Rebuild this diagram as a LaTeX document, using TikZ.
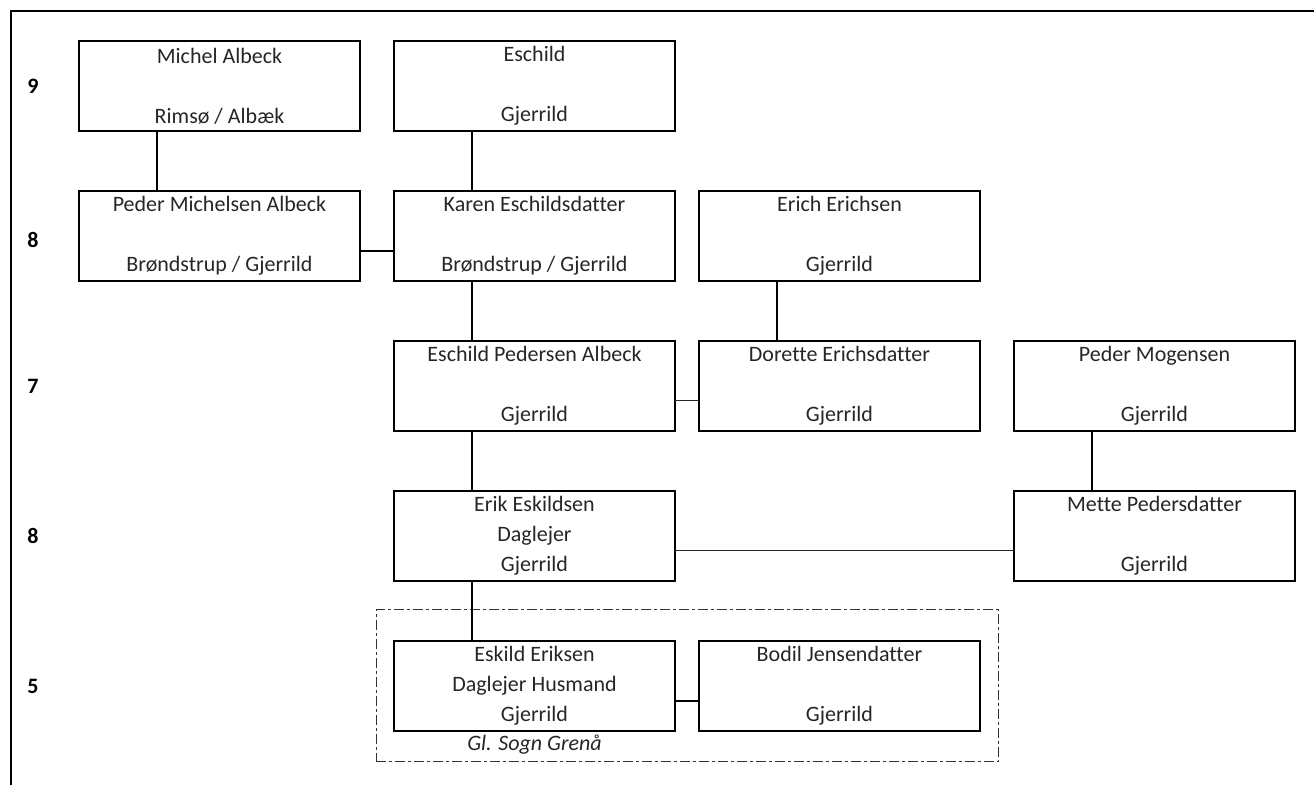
\documentclass[tikz,border=0pt]{standalone}
\usepackage{fontspec}
\setmainfont[Ligatures=NoCommon]{Carlito}
\usetikzlibrary{positioning,fit}

\begin{document}
\begin{tikzpicture}[x=0.5pt, y=-0.5pt, node distance=30pt and 17pt,
		person/.style={draw=black, line width=1pt, minimum width=140.5pt, minimum height=45pt, inner sep=0pt, outer sep=0pt, align=center, font=\fontsize{11}{15}\selectfont, text=black!85},
		genLabel/.style={font=\fontsize{11}{12}\selectfont\bfseries},
		descLine/.style={line width=1.1pt, color=black},
		marLine/.style={line width=1.1pt, color=black},
		thinLine/.style={line width=0.5pt, color=black!85},
		familyBox/.style={draw=black!80, line width=0.5pt, dash pattern=on 5pt off 1.5pt on 1.5pt off 1.5pt, inner xsep=9pt, inner ysep=15.5pt}
		]
	\useasboundingbox (0,0) rectangle (1314,785);
	
	% frame
	\draw [line width=1.3pt] (1314,11) -- (11,11) -- (11,785);
	
	% generations
	\node[genLabel] (g1) at (33,86) {9};
	\node[genLabel] (g2) at (33,240) {8};
	\node[genLabel] (g3) at (33,386) {7};
	\node[genLabel] (g4) at (33,536) {8};
	\node[genLabel] (g5) at (33,686) {5};
	
	\node[person] (michel) at (219.5,86) {Michel Albeck\\ \\Rimsø / Albæk};
	\node[person, right=of michel] (eschild) {Eschild\\ \\Gjerrild};
	
	\node[person, below=of michel] (peder) {Peder Michelsen Albeck\\ \\Brøndstrup / Gjerrild};
	\node[person, below=of eschild] (karen) {Karen Eschildsdatter\\ \\Brøndstrup / Gjerrild};
	\node[person, right=12pt of karen] (erich) {Erich Erichsen\\ \\Gjerrild};
	
	\node[person, below=of karen] (eschildP) {Eschild Pedersen Albeck\\ \\Gjerrild};
	\node[person, below=of erich] (dorette) {Dorette Erichsdatter\\ \\Gjerrild};
	\node[person, right=of dorette] (mogensen) {Peder Mogensen\\ \\Gjerrild};
	
	\node[person, below=of eschildP] (erik) {Erik Eskildsen\\Daglejer\\Gjerrild};
	\node[person, below=of mogensen] (mette) {Mette Pedersdatter\\ \\Gjerrild};
	
	\node[person, below=of erik] (eskild) {Eskild Eriksen\\Daglejer Husmand\\Gjerrild};
	\node[person, right=12pt of eskild] (bodil) {Bodil Jensendatter\\ \\Gjerrild};
	
	\node[below=1pt of eskild, inner sep=1pt, font=\fontsize{11}{12}\selectfont\itshape, text=black!85] (sogn) {Gl. Sogn Grenå};
	\node[familyBox, fit=(eskild)(bodil)] (family) {};
	
	% parent lines
	\draw [descLine] ([xshift=39pt]michel.south west) -- ([xshift=39pt]peder.north west);
	\draw [descLine] ([xshift=39pt]eschild.south west) -- ([xshift=39pt]karen.north west);
	\draw [descLine] ([xshift=39pt]karen.south west) -- ([xshift=39pt]eschildP.north west);
	\draw [descLine] ([xshift=39pt]erich.south west) -- ([xshift=39pt]dorette.north west);
	\draw [descLine] ([xshift=39pt]eschildP.south west) -- ([xshift=39pt]erik.north west);
	\draw [descLine] ([xshift=39pt]mogensen.south west) -- ([xshift=39pt]mette.north west);
	\draw [descLine] ([xshift=39pt]erik.south west) -- ([xshift=39pt]eskild.north west);
	
	% marriages
	\draw [marLine] ([yshift=15pt]peder.south east) -- ([yshift=15pt]karen.south west);
	\draw [thinLine] ([yshift=15pt]eschildP.south east) -- ([yshift=15pt]dorette.south west);
	\draw [thinLine] ([yshift=15pt]erik.south east) -- ([yshift=15pt]mette.south west);
	\draw [marLine] ([yshift=15pt]eskild.south east) -- ([yshift=15pt]bodil.south west);
\end{tikzpicture}
\end{document}
